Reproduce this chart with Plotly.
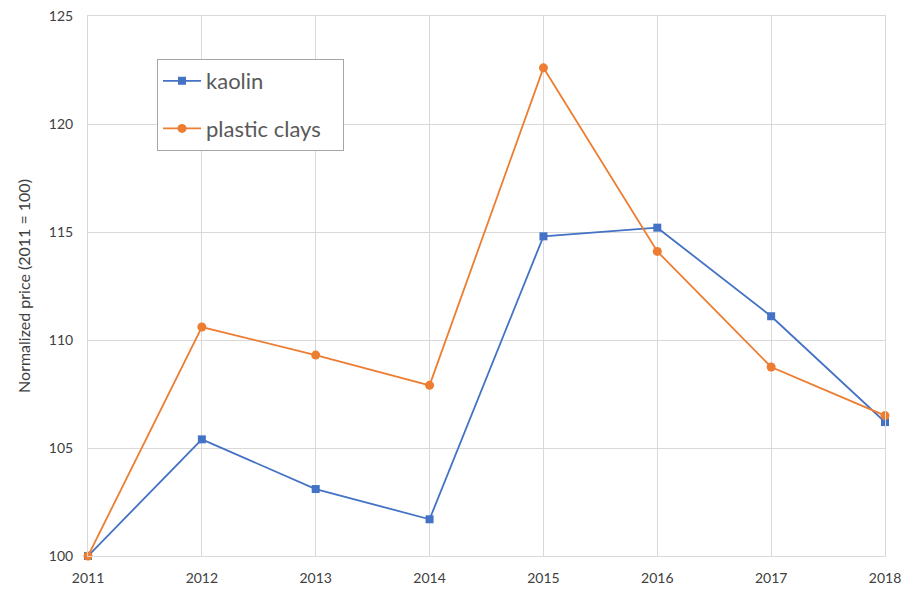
import plotly.graph_objects as go

years = [2011, 2012, 2013, 2014, 2015, 2016, 2017, 2018]
kaolin = [100.0, 105.4, 103.1, 101.7, 114.8, 115.2, 111.1, 106.2]
plastic_clays = [100.0, 110.6, 109.3, 107.9, 122.6, 114.1, 108.75, 106.5]

blue = "#4472C4"
orange = "#ED7D31"
grid = "#D9D9D9"
txt = "#595959"
font = "Lato, Noto Sans, sans-serif"

fig = go.Figure()
fig.add_trace(go.Scatter(x=years, y=kaolin, name="kaolin", mode="lines+markers",
                         line=dict(color=blue, width=1.8),
                         marker=dict(symbol="square", size=8, color=blue),
                         legendgroup="a", cliponaxis=False))
fig.add_trace(go.Scatter(x=years, y=plastic_clays, name="plastic clays\u00a0\u00a0\u00a0", mode="lines+markers",
                         line=dict(color=orange, width=1.8),
                         marker=dict(symbol="circle", size=9, color=orange),
                         legendgroup="b", cliponaxis=False))

fig.update_layout(
    width=904, height=590,
    margin=dict(l=88, r=19, t=16, b=34, autoexpand=False),
    paper_bgcolor="white", plot_bgcolor="white",
    font=dict(family=font, color=txt, size=14),
    legend=dict(x=0.0866, y=0.9204, xanchor="left", yanchor="top",
                bordercolor="#A6A6A6", borderwidth=1, bgcolor="white",
                font=dict(size=22, color=txt), traceorder="grouped",
                tracegroupgap=16, itemwidth=38),
    showlegend=True,
)
fig.update_xaxes(range=[2011, 2018], tickmode="array", tickvals=years,
                 ticktext=[str(y) for y in years],
                 showgrid=True, gridcolor=grid, gridwidth=1,
                 showline=True, linecolor=grid, mirror=True, zeroline=False,
                 ticks="", ticklen=0, ticklabelstandoff=9, ticklabeloverflow="allow",
                 tickfont=dict(size=14, color="#404040"))
fig.update_yaxes(range=[100, 125], tickmode="array", tickvals=[100, 105, 110, 115, 120, 125],
                 showgrid=True, gridcolor=grid,
                 showline=True, linecolor=grid, mirror=True, zeroline=False,
                 ticks="", ticklen=0, ticklabelstandoff=11, ticklabeloverflow="allow",
                 tickfont=dict(size=14, color="#404040"),
                 title=dict(text="Normalized price (2011 = 100)", font=dict(size=16, color="#404040"),
                            standoff=14))

fig.write_html("out.html", config={"displayModeBar": False},
               post_script="document.body.style.margin='0';")
